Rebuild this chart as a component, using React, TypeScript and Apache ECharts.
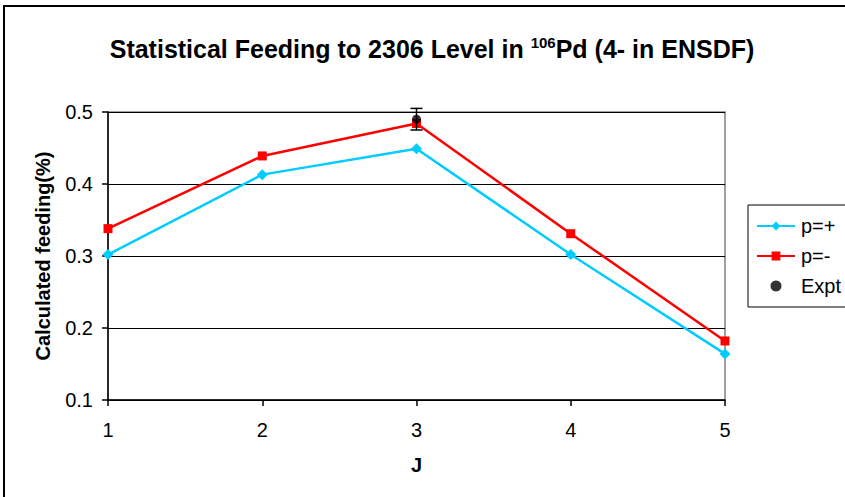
import React, { useEffect, useRef } from "react";
import * as echarts from "echarts";

const J = [1, 2, 3, 4, 5];
const pPlus = [0.302, 0.413, 0.449, 0.302, 0.164];
const pMinus = [0.338, 0.439, 0.484, 0.331, 0.182];
const exptJ = [3];
const exptValue = [0.49];
const exptError = [0.015];
const yTicks = [0.1, 0.2, 0.3, 0.4, 0.5];

const FONT = "Liberation Sans, Arial, sans-serif";

export default function App() {
  const ref = useRef<HTMLDivElement>(null);
  useEffect(() => {
    if (!ref.current) return;
    const chart = echarts.init(ref.current, null, { renderer: "svg" });
    const option: any = {
      animation: false,
      backgroundColor: "#ffffff",
      title: {
        text: "Statistical Feeding to 2306 Level in {sup|106}Pd (4- in ENSDF)",
        left: 427,
        textAlign: "center",
        top: 30,
        textStyle: {
          fontFamily: FONT,
          fontWeight: "bold",
          fontSize: 25,
          color: "#000",
          rich: {
            sup: {
              fontFamily: FONT,
              fontWeight: "bold",
              fontSize: 15,
              verticalAlign: "top",
              padding: [0, 0, 13, 0],
              color: "#000",
            },
          },
        },
      },
      graphic: {
        elements: [
          {
            type: "line",
            z: 100,
            shape: { x1: 4, y1: 5, x2: 4, y2: 497 },
            style: { stroke: "#000", lineWidth: 2 },
          },
          {
            type: "line",
            z: 100,
            shape: { x1: 3, y1: 6, x2: 845, y2: 6 },
            style: { stroke: "#000", lineWidth: 2 },
          },
        ],
      },
      legend: {
        orient: "vertical",
        left: 748,
        top: 205,
        width: 140,
        borderColor: "#000",
        borderWidth: 1,
        padding: [11, 60, 11, 8],
        itemGap: 10,
        itemWidth: 38,
        itemHeight: 11,
        textStyle: { fontFamily: FONT, fontSize: 20, color: "#000", padding: [0, 0, 0, 1] },
        data: ["p=+", "p=-", "Expt"],
      },
      grid: {
        left: 108,
        right: 120,
        top: 112,
        bottom: 97,
        show: true,
        borderColor: "#808080",
        borderWidth: 1.5,
      },
      xAxis: {
        type: "value",
        min: J[0],
        max: J[J.length - 1],
        interval: 1,
        name: "J",
        nameLocation: "middle",
        nameGap: 55,
        nameTextStyle: { fontFamily: FONT, fontWeight: "bold", fontSize: 20, color: "#000" },
        axisLine: { lineStyle: { color: "#000", width: 1.5 } },
        axisTick: { show: true, length: 6, lineStyle: { color: "#000", width: 1.5 } },
        axisLabel: { fontFamily: FONT, fontSize: 20, color: "#000", margin: 20 },
        splitLine: { show: false },
      },
      yAxis: {
        type: "value",
        min: yTicks[0],
        max: yTicks[yTicks.length - 1],
        interval: 0.1,
        name: "Calculated feeding(%)",
        nameLocation: "middle",
        nameGap: 55,
        nameRotate: 90,
        nameTextStyle: { fontFamily: FONT, fontWeight: "bold", fontSize: 20, color: "#000" },
        axisLine: { show: true, lineStyle: { color: "#000", width: 1.5 } },
        axisTick: { show: true, inside: false, length: 6, lineStyle: { color: "#000", width: 1.5 } },
        axisLabel: {
          fontFamily: FONT,
          fontSize: 20,
          color: "#000",
          margin: 15,
          formatter: (v: number) => v.toFixed(1),
        },
        splitLine: { show: true, lineStyle: { color: "#000", width: 1 } },
      },
      series: [
        {
          name: "p=+",
          type: "line",
          data: J.map((j, i) => [j, pPlus[i]]),
          color: "#00ccff",
          lineStyle: { width: 2.5, color: "#00ccff" },
          symbol: "diamond",
          symbolSize: 11,
          itemStyle: { color: "#00ccff" },
          z: 3,
        },
        {
          name: "p=-",
          type: "line",
          data: J.map((j, i) => [j, pMinus[i]]),
          color: "#ff0000",
          lineStyle: { width: 2.5, color: "#ff0000" },
          symbol: "rect",
          symbolSize: 9,
          itemStyle: { color: "#ff0000" },
          z: 4,
        },
        {
          name: "Expt",
          type: "scatter",
          data: exptJ.map((j, i) => [j, exptValue[i]]),
          symbol: "circle",
          symbolSize: 9,
          itemStyle: { color: "#000" },
          z: 6,
        },
        {
          name: "ExptErr",
          type: "custom",
          data: exptJ.map((j, i) => [j, exptValue[i] - exptError[i], exptValue[i] + exptError[i]]),
          z: 5,
          renderItem: (params: any, api: any) => {
            const x = api.value(0);
            const lo = api.coord([x, api.value(1)]);
            const hi = api.coord([x, api.value(2)]);
            const hw = 6;
            const style = { stroke: "#000", lineWidth: 1.5 };
            return {
              type: "group",
              children: [
                { type: "line", shape: { x1: lo[0], y1: lo[1], x2: hi[0], y2: hi[1] }, style },
                { type: "line", shape: { x1: lo[0] - hw, y1: lo[1], x2: lo[0] + hw, y2: lo[1] }, style },
                { type: "line", shape: { x1: hi[0] - hw, y1: hi[1], x2: hi[0] + hw, y2: hi[1] }, style },
              ],
            };
          },
        },
      ],
    };
    chart.setOption(option);
    return () => chart.dispose();
  }, []);
  return (
    <div
      ref={ref}
      style={{ position: "fixed", left: 0, top: 0, width: 845, height: 497 }}
    />
  );
}
